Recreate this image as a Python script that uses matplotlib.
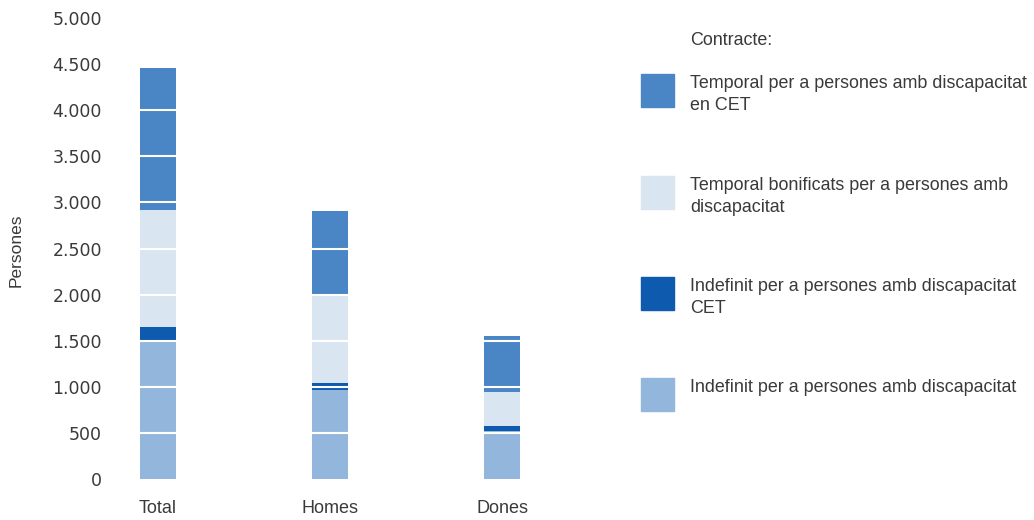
import numpy as np
import matplotlib.pyplot as plt
from matplotlib.patches import Rectangle
from matplotlib.ticker import FuncFormatter

plt.rcParams['font.family'] = ['Liberation Sans', 'DejaVu Sans']

# Dades
grups = ['Total', 'Homes', 'Dones']
indefinit = [1490, 970, 520]
indefinit_cet = [155, 75, 60]
temporal_bonif = [1275, 935, 360]
temporal_cet = [1540, 925, 610]

series = [indefinit, indefinit_cet, temporal_bonif, temporal_cet]
colors = ['#93b7dc', '#0d5aae', '#dae5f2', '#4a86c5']

legend_labels = ['Temporal per a persones amb discapacitat\nen CET',
                 'Temporal bonificats per a persones amb\ndiscapacitat',
                 'Indefinit per a persones amb discapacitat\nCET',
                 'Indefinit per a persones amb discapacitat']
legend_colors = ['#4a86c5', '#dae5f2', '#0d5aae', '#93b7dc']

txt = '#3a3a3a'
W, H = 1034, 520
fig = plt.figure(figsize=(W / 100, H / 100), dpi=100)
ax = fig.add_axes([120 / W, 1 - 479 / H, 520 / W, (479 - 18) / H])

x = np.arange(len(grups))
bottom = np.zeros(len(grups))
for vals, c in zip(series, colors):
    ax.bar(x, vals, width=0.21, bottom=bottom, color=c, zorder=1)
    bottom += np.array(vals)

ax.set_ylim(0, 5000)
ax.set_xlim(-0.22, 2.8)
ax.set_yticks(np.arange(0, 5001, 500))
ax.yaxis.set_major_formatter(FuncFormatter(lambda v, p: f'{int(v):,}'.replace(',', '.')))
ax.set_xticks(x)
ax.set_xticklabels(grups, fontsize=13)
ax.tick_params(axis='both', length=0, colors=txt)
ax.tick_params(axis='y', pad=13)
ax.tick_params(axis='x', pad=15)
for lab in ax.get_yticklabels():
    lab.set_family('DejaVu Sans')
    lab.set_fontsize(12.5)
for s in ax.spines.values():
    s.set_visible(False)
for v in np.arange(500, 5001, 500):
    ax.axhline(v, color='white', lw=1.5, zorder=2)

fig.text(16 / W, 1 - 250 / H, 'Persones', rotation=90, ha='center', va='center',
         fontsize=12.5, color=txt)

# Llegenda
fig.text(690 / W, 1 - 41 / H, 'Contracte:', ha='left', va='center', fontsize=12.9, color=txt)
tops = [74, 176, 277, 378]
for t, lab, c in zip(tops, legend_labels, legend_colors):
    fig.add_artist(Rectangle((641 / W, 1 - (t + 33) / H), 33 / W, 33 / H,
                             transform=fig.transFigure, color=c))
    fig.text(690 / W, 1 - (t + 1) / H, lab, ha='left', va='top', fontsize=12.9,
             color=txt, linespacing=1.42)

fig.savefig('out.png', dpi=100)
